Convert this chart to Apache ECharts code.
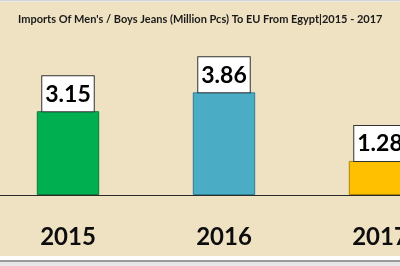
<!DOCTYPE html>
<html>
<head>
<meta charset="utf-8">
<script src="https://cdn.jsdelivr.net/npm/echarts@6/dist/echarts.min.js"></script>
<style>
html,body{margin:0;padding:0;background:#fff;}
#c{width:400px;height:266px;}
</style>
</head>
<body>
<div id="c"></div>
<script>
const titleText = "Imports Of Men's / Boys Jeans (Million Pcs) To EU From Egypt|2015 - 2017";
const categories = ["2015", "2016", "2017"];
const values = [3.15, 3.86, 1.28];
const barColors = ["#00B050", "#4BACC6", "#FFC000"];
const barBorders = ["#0a7a3a", "#2f7f96", "#b08400"];

const chart = echarts.init(document.getElementById('c'), null, {renderer: 'canvas'});
chart.setOption({
  backgroundColor: '#ffffff',
  animation: false,
  graphic: [
    {type: 'rect', z: -10, shape: {x: 0, y: 2, width: 400, height: 254}, style: {fill: '#EFE2C3'}},
    {type: 'rect', z: -10, shape: {x: 0, y: 0, width: 400, height: 1.5}, style: {fill: '#d4d4d4'}},
    {type: 'rect', z: -10, shape: {x: 0, y: 260, width: 400, height: 2}, style: {fill: '#9a9a9a'}},
    {type: 'rect', z: -10, shape: {x: 0, y: 262, width: 400, height: 4}, style: {fill: '#e6e6e6'}}
  ],
  title: {
    text: titleText,
    left: 13,
    top: 9,
    textStyle: {fontFamily: 'Lato', fontWeight: 'bold', fontSize: 11, color: '#1a1a1a'}
  },
  grid: {left: -10, width: 468, top: 88.6, bottom: 71, containLabel: false, outerBoundsMode: 'none'},
  xAxis: {
    type: 'category',
    data: categories,
    axisLine: {show: true, lineStyle: {color: '#2a2a2a', width: 1.2}},
    axisTick: {show: false},
    axisLabel: {margin: 30, fontFamily: 'Lato', fontWeight: 'bold', fontSize: 24, color: '#0d0d0d'}
  },
  yAxis: {
    type: 'value', min: 0, max: 4, show: false,
    splitLine: {show: false}
  },
  series: [{
    type: 'bar',
    barWidth: '40%',
    data: values.map((v, i) => ({
      value: v,
      itemStyle: {color: barColors[i], borderColor: barBorders[i], borderWidth: 1}
    })),
    label: {
      show: true,
      position: 'top',
      distance: 0,
      fontFamily: 'Lato',
      fontWeight: 'bold',
      fontSize: 23,
      color: '#000',
      backgroundColor: '#ffffff',
      borderColor: '#333',
      borderWidth: 1,
      padding: [4, 3, 3, 3],
      lineHeight: 28,
      formatter: p => p.value.toFixed(2)
    }
  }]
});
</script>
</body>
</html>
